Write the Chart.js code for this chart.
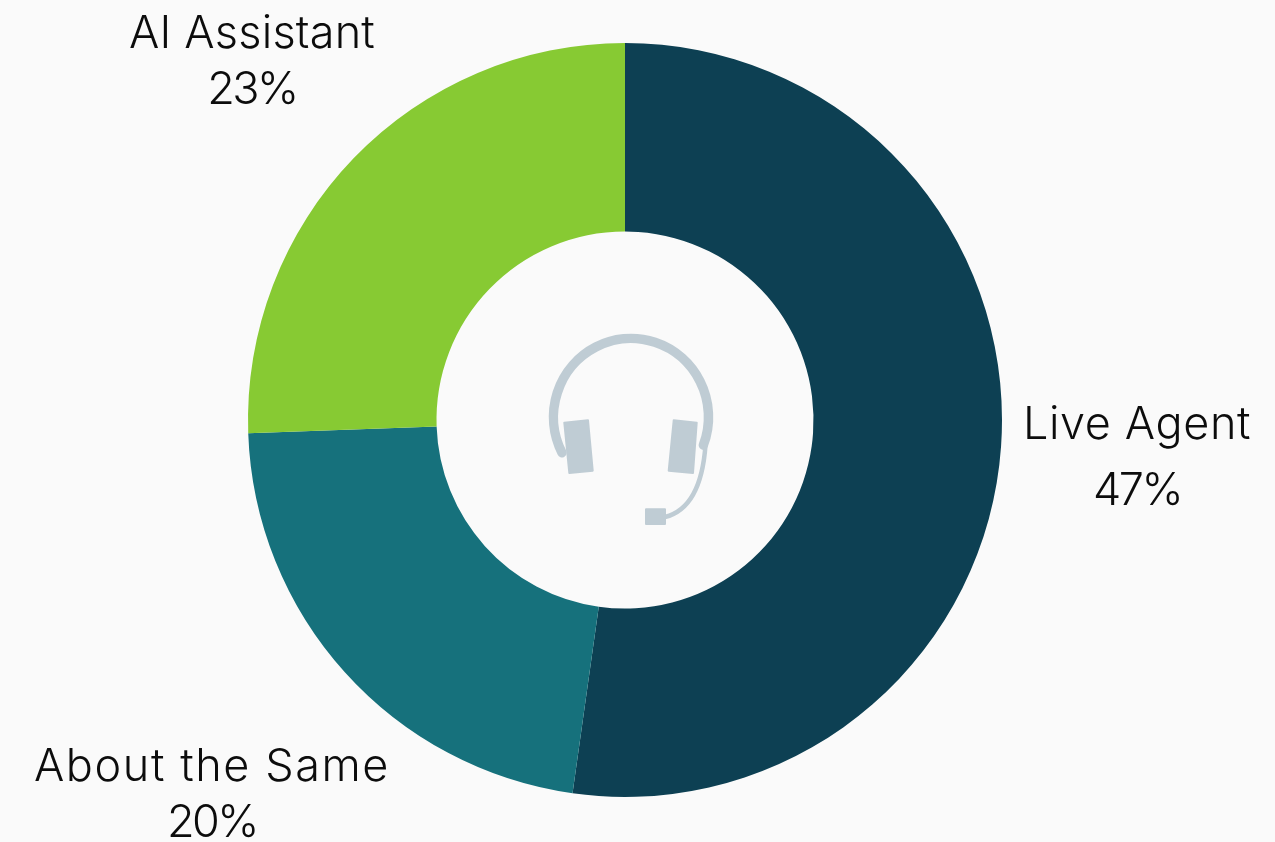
<!DOCTYPE html>
<html>
<head>
<meta charset="utf-8">
<style>
  html, body { margin: 0; padding: 0; background: #fafafa; }
  #wrap { position: relative; width: 1275px; height: 842px; }
</style>
<script src="https://cdn.jsdelivr.net/npm/chart.js@4/dist/chart.umd.js"></script>
</head>
<body>
<div id="wrap"><canvas id="chart"></canvas></div>
<script>
const categories = ['Live Agent', 'About the Same', 'AI Assistant'];
const shares = [47, 20, 23];
const sliceColors = ['#0d4053', '#16717c', '#87ca33'];

const labelFont = '300 45px Inter, sans-serif';
const labelColor = '#0c0c0c';
// Each two-line caption: centre x, first baseline, second baseline, width of the name
const captionAnchors = [
  [1137, 439, 505, 228],
  [212, 781, 837, 356],
  [252, 48, 104, 246]
];

const captions = {
  id: 'captions',
  afterDraw(chart) {
    const ctx = chart.ctx;
    ctx.save();
    ctx.font = labelFont;
    ctx.fillStyle = labelColor;
    ctx.textAlign = 'center';
    ctx.textBaseline = 'alphabetic';
    categories.forEach((name, i) => {
      const [x, y1, y2, width] = captionAnchors[i];
      ctx.letterSpacing = '0px';
      const natural = ctx.measureText(name).width;
      ctx.letterSpacing = ((width - natural) / name.length).toFixed(2) + 'px';
      ctx.fillText(name, x, y1);
      ctx.letterSpacing = '-2.5px';
      ctx.fillText(shares[i] + '%', x, y2);
    });
    ctx.restore();
  }
};

// Headset glyph in the hole of the ring
const headset = {
  id: 'headset',
  afterDraw(chart) {
    const ctx = chart.ctx;
    const deg = Math.PI / 180;
    ctx.save();
    ctx.strokeStyle = ctx.fillStyle = '#bfccd4';
    ctx.lineCap = 'round';
    ctx.lineJoin = 'round';

    ctx.lineWidth = 9.5;
    ctx.beginPath();
    ctx.ellipse(631, 417, 77.5, 78.5, 0, 153 * deg, 381 * deg);
    ctx.stroke();

    ctx.lineWidth = 2;
    const poly = pts => {
      ctx.beginPath();
      pts.forEach((p, i) => i ? ctx.lineTo(p[0], p[1]) : ctx.moveTo(p[0], p[1]));
      ctx.closePath();
      ctx.fill();
      ctx.stroke();
    };
    poly([[564.3, 422.7], [588, 420.3], [592.7, 470.7], [569.3, 473]]);
    poly([[673.7, 420.3], [696.7, 422.7], [693, 473], [668.7, 470.7]]);
    poly([[646, 509.3], [665, 509.3], [665, 524], [646, 524]]);

    ctx.lineWidth = 4.5;
    ctx.beginPath();
    ctx.moveTo(705.5, 445);
    ctx.bezierCurveTo(703, 480, 693, 510, 665, 517);
    ctx.stroke();
    ctx.restore();
  }
};

new Chart(document.getElementById('chart'), {
  type: 'doughnut',
  data: {
    labels: categories,
    datasets: [{
      data: shares,
      backgroundColor: sliceColors,
      borderWidth: 0
    }]
  },
  options: {
    responsive: true,
    maintainAspectRatio: false,
    animation: false,
    cutout: '50%',
    layout: { padding: { left: 248, right: 273, top: 43, bottom: 45 } },
    plugins: { legend: { display: false }, tooltip: { enabled: false } }
  },
  plugins: [captions, headset]
});
</script>
</body>
</html>
